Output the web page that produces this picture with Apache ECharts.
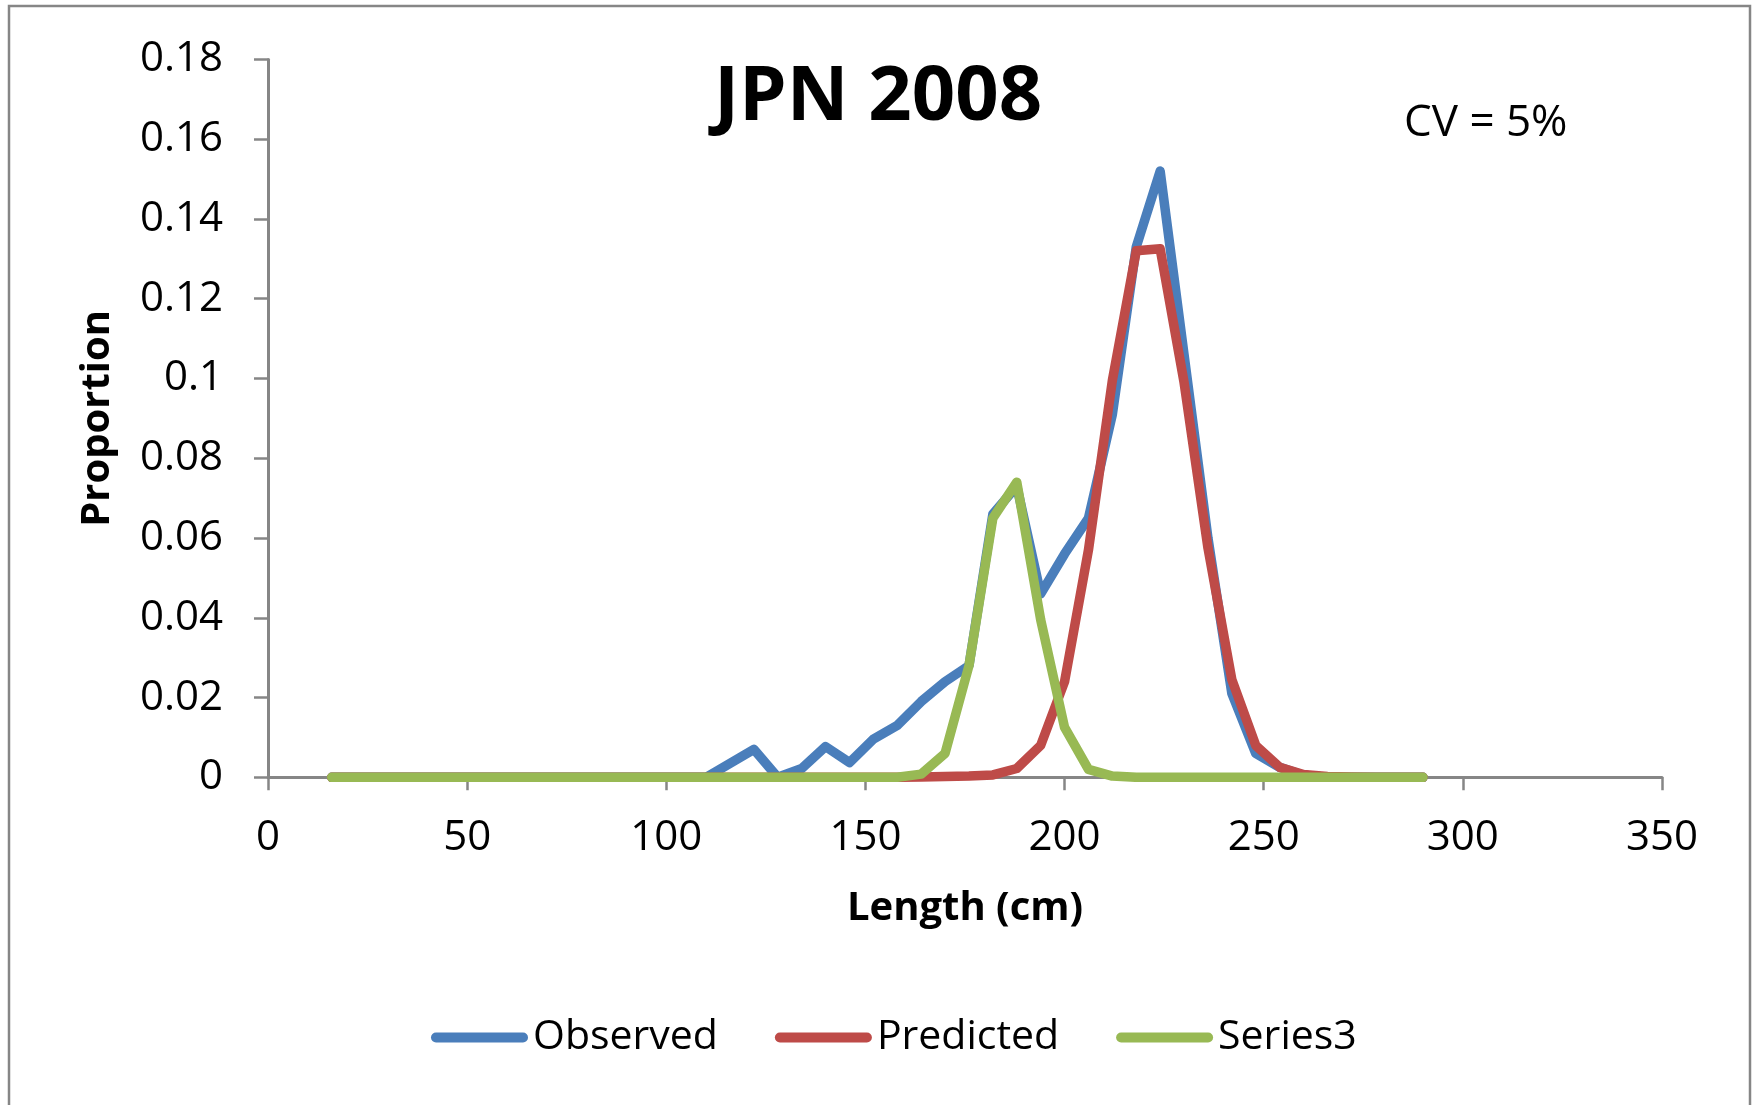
<!DOCTYPE html>
<html>
<head>
<meta charset="utf-8">
<script src="https://cdn.jsdelivr.net/npm/echarts@6/dist/echarts.min.js"></script>
<style>
html,body{margin:0;padding:0;background:#fff;}
#main{width:1756px;height:1105px;}
</style>
</head>
<body>
<div id="main"></div>
<script>
var lengths = [16,20,26,32,38,44,50,56,62,68,74,80,86,92,98,104,110,116,122,128,134,140,146,152,158,164,170,176,182,188,194,200,206,212,218,224,230,236,242,248,254,260,266,272,278,284,290];

var observed = [0,0,0,0,0,0,0,0,0,0,0,0,0,0,0,0,
  0,0.0035,0.007,0,0.0022,0.0077,0.0037,0.0096,0.013,0.019,0.024,0.028,0.066,0.073,0.046,0.056,0.065,0.091,0.133,0.152,0.106,0.060,0.021,0.006,0.0025,0.0005,0,0,0,0,0];

var predicted = [0,0,0,0,0,0,0,0,0,0,0,0,0,0,0,0,
  0,0,0,0,0,0,0,0,0,0.0001,0.0002,0.0003,0.0006,0.0022,0.008,0.024,0.057,0.0995,0.132,0.1325,0.099,0.0575,0.0245,0.008,0.0025,0.0007,0.0002,0.0001,0,0,0];

var series3 = [0,0,0,0,0,0,0,0,0,0,0,0,0,0,0,0,
  0,0,0,0,0,0,0,0,0,0.0008,0.006,0.028,0.065,0.074,0.0395,0.0125,0.002,0.0003,0,0,0,0,0,0,0,0,0,0,0,0,0];

var seriesNames = ['Observed','Predicted','Series3'];
var seriesColors = ['#4A7EBB','#BE4B48','#98B954'];
var seriesValues = [observed, predicted, series3];

var titleText = 'JPN 2008';
var noteText = 'CV = 5%';
var xName = 'Length (cm)';
var yName = 'Proportion';

function pairs(vals){
  return lengths.map(function(x,i){ return [x, vals[i]]; });
}

var chart = echarts.init(document.getElementById('main'), null, {renderer:'canvas'});
var axisGray = '#868686';
var tickFont = "'Open Sans', 'Noto Sans', sans-serif";
var narrowFont = "'Liberation Sans Narrow', 'Open Sans', sans-serif";
var legendIcon = 'path://M5,0 L92,0 A5,5 0 0 1 92,10 L5,10 A5,5 0 0 1 5,0 Z';

var option = {
  backgroundColor: '#fff',
  animation: false,
  title: {
    text: titleText,
    left: 'center',
    top: 55,
    textStyle: {fontFamily: tickFont, fontWeight: 'bold', fontSize: 76, color: '#000'}
  },
  graphic: [
    {type:'rect', shape:{x:9, y:6, width:1741, height:1120}, style:{fill:'none', stroke: axisGray, lineWidth: 2.5}, silent:true},
    {type:'text', left: 1404, top: 101, style:{text: noteText, font: '44px ' + narrowFont, fill:'#000'}}
  ],
  legend: {
    data: seriesNames,
    left: 426,
    top: 1012,
    itemWidth: 97,
    itemHeight: 10,
    itemGap: 57,
    icon: legendIcon,
    textStyle: {fontFamily: narrowFont, fontSize: 41, color:'#000'}
  },
  grid: {left: 268, right: 94, top: 59.4, bottom: 327.7, containLabel: false},
  xAxis: {
    type: 'value',
    min: 0, max: 350, interval: 50,
    name: xName,
    nameLocation: 'middle',
    nameGap: 111,
    nameTextStyle: {fontFamily: tickFont, fontWeight:'bold', fontSize: 40, color:'#000'},
    axisLine: {show:true, onZero:false, lineStyle:{color: axisGray, width: 3}},
    axisTick: {show:true, length: 13, lineStyle:{color: axisGray, width: 2.5}},
    axisLabel: {margin: 40, fontFamily: tickFont, fontSize: 42, color:'#000'},
    splitLine: {show:false}
  },
  yAxis: {
    type: 'value',
    min: 0, max: 0.18, interval: 0.02,
    name: yName,
    nameLocation: 'middle',
    nameGap: 150,
    nameRotate: 90,
    nameTextStyle: {fontFamily: tickFont, fontWeight:'bold', fontSize: 40, color:'#000'},
    axisLine: {show:true, lineStyle:{color: axisGray, width: 3}},
    axisTick: {show:true, length: 14, lineStyle:{color: axisGray, width: 2.5}},
    axisLabel: {margin: 45, fontFamily: tickFont, fontSize: 42, color:'#000',
      formatter: function(v){ return String(Math.round(v*100)/100); }},
    splitLine: {show:false}
  },
  series: seriesNames.map(function(n,i){
    return {
      name: n,
      type: 'line',
      data: pairs(seriesValues[i]),
      symbol: 'none',
      smooth: false,
      color: seriesColors[i],
      lineStyle: {color: seriesColors[i], width: 9.5, cap: 'round', join: 'round'},
      itemStyle: {color: seriesColors[i]},
      z: 2 + i
    };
  })
};
chart.setOption(option);
</script>
</body>
</html>
